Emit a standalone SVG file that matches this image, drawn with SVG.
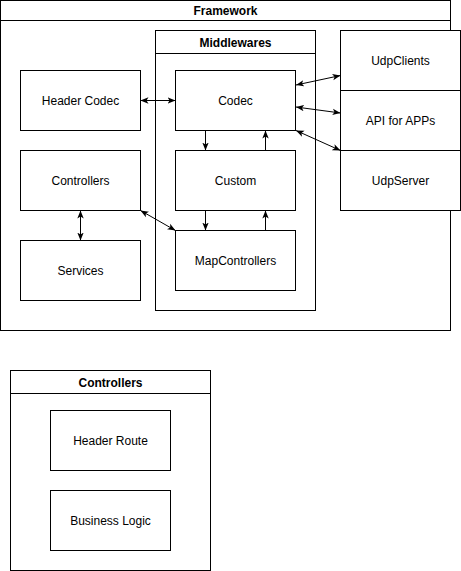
<svg xmlns="http://www.w3.org/2000/svg" width="461" height="571" viewBox="0 0 461 571">
<style>
.box{fill:#fff;stroke:#000;stroke-width:1}
.lbl{font-family:"Liberation Sans",Arial,sans-serif;font-size:12px;fill:#000;text-anchor:middle;dominant-baseline:central}
.ttl{font-family:"Liberation Sans",Arial,sans-serif;font-size:12px;font-weight:bold;fill:#000;text-anchor:middle;dominant-baseline:central}
.edge{fill:none;stroke:#000;stroke-width:1;marker-end:url(#arr)}
.bi{marker-start:url(#arr)}
</style>
<defs>
<marker id="arr" viewBox="0 0 10 10" refX="10" refY="5" markerWidth="8" markerHeight="8" markerUnits="userSpaceOnUse" orient="auto-start-reverse">
<path d="M0,1 L10,5 L0,9 L2.5,5 z" fill="#000"/>
</marker>
</defs>
<g id="framework">
<rect class="box" x="0.5" y="0.5" width="450" height="330"/>
<line x1="0.5" y1="20.5" x2="450.5" y2="20.5" stroke="#000"/>
<text class="ttl" x="225.5" y="10.5">Framework</text>
</g>
<g id="middlewares">
<rect class="box" x="155.5" y="30.5" width="160" height="280"/>
<line x1="155.5" y1="53.5" x2="315.5" y2="53.5" stroke="#000"/>
<text class="ttl" x="235.5" y="42.5">Middlewares</text>
</g>
<g id="header-codec"><rect class="box" x="20.5" y="70.5" width="120" height="60"/><text class="lbl" x="80.5" y="100.5">Header Codec</text></g>
<g id="codec"><rect class="box" x="175.5" y="70.5" width="120" height="60"/><text class="lbl" x="235.5" y="100.5">Codec</text></g>
<g id="controllers"><rect class="box" x="20.5" y="150.5" width="120" height="60"/><text class="lbl" x="80.5" y="180.5">Controllers</text></g>
<g id="custom"><rect class="box" x="175.5" y="150.5" width="120" height="60"/><text class="lbl" x="235.5" y="180.5">Custom</text></g>
<g id="services"><rect class="box" x="20.5" y="240.5" width="120" height="60"/><text class="lbl" x="80.5" y="270.5">Services</text></g>
<g id="mapcontrollers"><rect class="box" x="175.5" y="230.5" width="120" height="60"/><text class="lbl" x="235.5" y="260.5">MapControllers</text></g>
<g id="udpclients"><rect class="box" x="340.5" y="30.5" width="120" height="60"/><text class="lbl" x="400.5" y="60.5">UdpClients</text></g>
<g id="api"><rect class="box" x="340.5" y="90.5" width="120" height="60"/><text class="lbl" x="400.5" y="120.5">API for APPs</text></g>
<g id="udpserver"><rect class="box" x="340.5" y="150.5" width="120" height="60"/><text class="lbl" x="400.5" y="180.5">UdpServer</text></g>
<g id="controllers-detail">
<rect class="box" x="10.5" y="370.5" width="200" height="200"/>
<line x1="10.5" y1="393.5" x2="210.5" y2="393.5" stroke="#000"/>
<text class="ttl" x="110.5" y="382.5">Controllers</text>
</g>
<g id="header-route"><rect class="box" x="50.5" y="410.5" width="120" height="60"/><text class="lbl" x="110.5" y="440.5">Header Route</text></g>
<g id="business-logic"><rect class="box" x="50.5" y="490.5" width="120" height="60"/><text class="lbl" x="110.5" y="520.5">Business Logic</text></g>
<g id="connectors">
<line class="edge bi" x1="140.5" y1="100.5" x2="175.5" y2="100.5"/>
<line class="edge" x1="205.5" y1="130.5" x2="205.5" y2="150.5"/>
<line class="edge" x1="265.5" y1="150.5" x2="265.5" y2="130.5"/>
<line class="edge" x1="205.5" y1="210.5" x2="205.5" y2="230.5"/>
<line class="edge" x1="265.5" y1="230.5" x2="265.5" y2="210.5"/>
<line class="edge bi" x1="80.5" y1="210.5" x2="80.5" y2="240.5"/>
<line class="edge bi" x1="140.5" y1="210.5" x2="175.5" y2="230.5"/>
<line class="edge bi" x1="296" y1="85" x2="340.5" y2="75.5"/>
<line class="edge bi" x1="296" y1="107" x2="340.5" y2="113"/>
<line class="edge bi" x1="296" y1="130.5" x2="340.5" y2="150.5"/>
</g>
</svg>
